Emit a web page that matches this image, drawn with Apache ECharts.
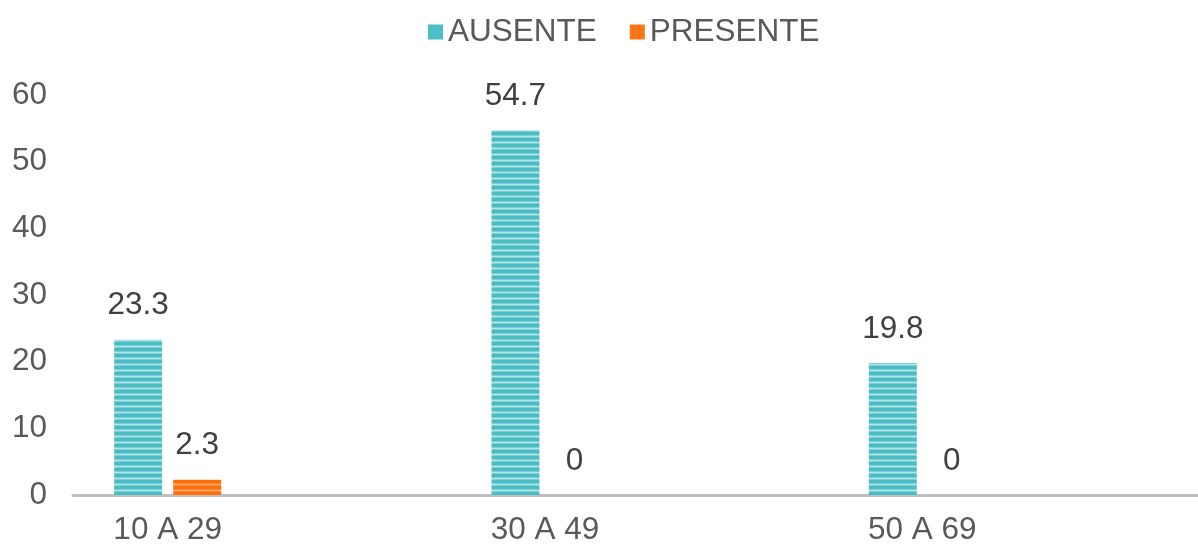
<!DOCTYPE html>
<html>
<head>
<meta charset="utf-8">
<style>
  html, body { margin: 0; padding: 0; background: #ffffff; overflow: hidden; width: 1198px; height: 547px; }
  #chart { position: absolute; left: -21px; top: 0; width: 1219px; height: 547px; }
</style>
<script src="https://cdn.jsdelivr.net/npm/echarts@6/dist/echarts.min.js"></script>
</head>
<body>
<div id="chart"></div>
<script>
// Age groups and percentages
const categories = ['10 A 29', '30 A 49', '50 A 69'];
const seriesNames = ['AUSENTE', 'PRESENTE'];
const ausente = [23.3, 54.7, 19.8];
const presente = [2.3, 0, 0];
const yTicks = { min: 0, max: 60, interval: 10 };

const FONT = "'Liberation Sans', Arial, sans-serif";
const FS = 31.5;

// Horizontal-stripe fill for the bars (6px period)
function stripes(dark, mid, light) {
  const c = document.createElement('canvas');
  c.width = 4; c.height = 6;
  const g = c.getContext('2d');
  g.fillStyle = dark;  g.fillRect(0, 0, 4, 3);
  g.fillStyle = mid;   g.fillRect(0, 3, 4, 1);
  g.fillStyle = light; g.fillRect(0, 4, 4, 1);
  g.fillStyle = mid;   g.fillRect(0, 5, 4, 1);
  return { image: c, repeat: 'repeat' };
}
const tealFill = stripes('#49BCC4', '#7DCFD6', '#B2E4E8');
const orangeFill = stripes('#FF6C08', '#FF8A35', '#FFAA6C');

const valueLabel = {
  show: true,
  position: 'top',
  distance: 18,
  color: '#404040',
  fontSize: FS,
  fontFamily: FONT
};

// the chart div sits 21px left of the page edge so the first bar group lands where it should
const chart = echarts.init(document.getElementById('chart'), null, { renderer: 'canvas' });
chart.setOption({
  animation: false,
  backgroundColor: '#ffffff',
  legend: {
    left: 444,
    top: 11,
    icon: 'rect',
    itemWidth: 15,
    itemHeight: 15,
    itemGap: 33,
    textStyle: { color: '#595959', fontSize: FS, fontFamily: FONT },
    data: [
      { name: seriesNames[0], itemStyle: { color: '#4BBEC6' } },
      { name: seriesNames[1], itemStyle: { color: '#FF7417' } }
    ]
  },
  grid: [
    { left: 0, width: 1132, top: 95, bottom: 52 },
    { left: 94, right: 0, top: 95, bottom: 52 }
  ],
  xAxis: [
    {
      type: 'category', gridIndex: 0, data: categories,
      axisLine: { show: false }, axisTick: { show: false },
      axisLabel: { color: '#595959', fontSize: FS, fontFamily: FONT, margin: 19 }
    },
    {
      type: 'category', gridIndex: 1, data: [''],
      axisLine: { show: true, lineStyle: { color: '#BFBFBF', width: 3 } },
      axisTick: { show: false }, axisLabel: { show: false }
    }
  ],
  yAxis: [
    {
      type: 'value', gridIndex: 0, min: yTicks.min, max: yTicks.max, interval: yTicks.interval,
      show: false, splitLine: { show: false }
    },
    {
      type: 'value', gridIndex: 1, min: yTicks.min, max: yTicks.max, interval: yTicks.interval,
      axisLine: { show: false }, axisTick: { show: false }, splitLine: { show: false },
      axisLabel: { color: '#595959', fontSize: FS, fontFamily: FONT, margin: 26 }
    }
  ],
  series: [
    {
      name: seriesNames[0], type: 'bar', xAxisIndex: 0, yAxisIndex: 0,
      data: ausente, barWidth: 48, barGap: '23%',
      itemStyle: { color: tealFill },
      label: valueLabel
    },
    {
      name: seriesNames[1], type: 'bar', xAxisIndex: 0, yAxisIndex: 0,
      data: presente, barWidth: 48, barGap: '23%',
      itemStyle: { color: orangeFill },
      label: valueLabel
    }
  ]
});
</script>
</body>
</html>
